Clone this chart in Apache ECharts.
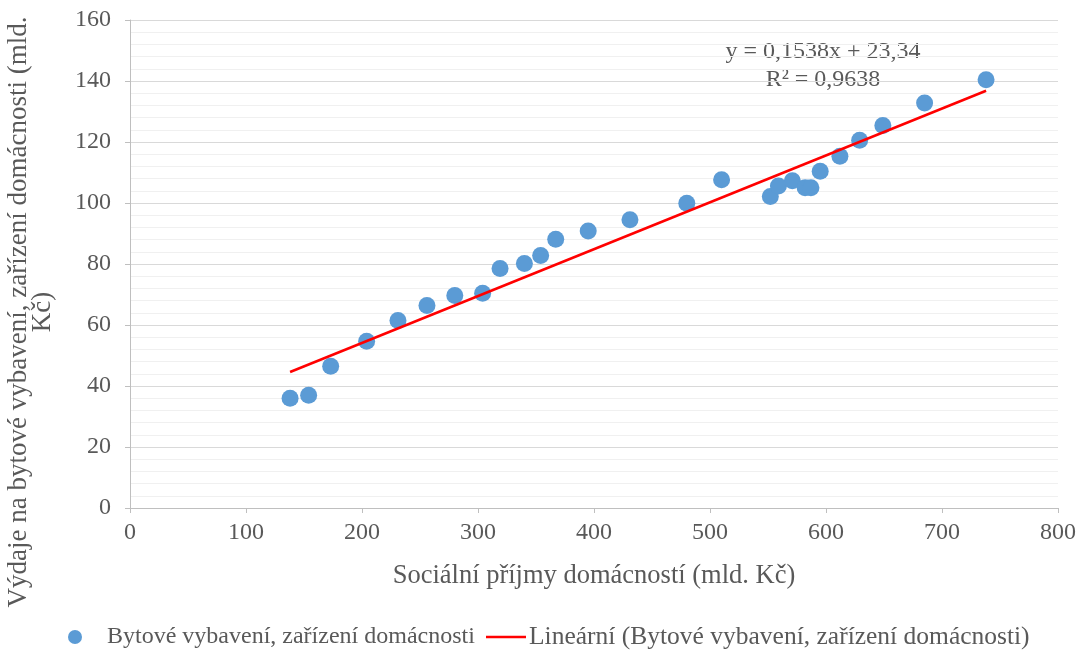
<!DOCTYPE html>
<html>
<head>
<meta charset="utf-8">
<script src="https://cdn.jsdelivr.net/npm/echarts@6/dist/echarts.min.js"></script>
<style>
html, body { margin: 0; padding: 0; background: #fff; }
#container { width: 1085px; height: 659px; }
</style>
</head>
<body>
<div id="container"></div>
<script>
// body dat - socialni prijmy (x) a vydaje na bytove vybaveni (y), mld. Kc
var prijmy = [138, 154, 173, 204, 231, 256, 280, 304, 319, 340, 354, 367, 395, 431, 480, 510, 552, 559, 571, 582, 587, 595, 612, 629, 649, 685, 738];
var vydaje = [36.0, 37.0, 46.5, 54.7, 61.5, 66.4, 69.7, 70.4, 78.5, 80.2, 82.8, 88.1, 90.8, 94.5, 99.9, 107.6, 102.1, 105.6, 107.3, 105.0, 105.0, 110.4, 115.3, 120.6, 125.4, 132.8, 140.4];
// koncove body linearniho trendu
var trendX = [138, 738];
var trendY = [44.6, 136.8];
var xTicks = [0, 800, 100];
var yTicks = [0, 160, 20];

var nazevRady = 'Bytové vybavení, zařízení domácnosti';
var nazevTrendu = 'Lineární (Bytové vybavení, zařízení domácnosti)';
var rovnice = 'y = 0,1538x + 23,34';
var spolehlivost = 'R² = 0,9638';

var bodyData = [];
for (var i = 0; i < prijmy.length; i++) {
    bodyData.push([prijmy[i], vydaje[i]]);
}
var trendData = [];
for (var j = 0; j < trendX.length; j++) {
    trendData.push([trendX[j], trendY[j]]);
}

var font = 'Liberation Serif';
var seda = '#595959';

var dom = document.getElementById("container");
var myChart = echarts.init(dom);
var option = {
    animation: false,
    textStyle: { fontFamily: font },
    grid: { left: 130, right: 27, top: 20, bottom: 151, containLabel: false },
    xAxis: {
        type: 'value',
        min: xTicks[0],
        max: xTicks[1],
        interval: xTicks[2],
        name: 'Sociální příjmy domácností (mld. Kč)',
        nameLocation: 'middle',
        nameGap: 55,
        nameTextStyle: { fontFamily: font, fontSize: 26.5, color: seda },
        axisLine: { show: true, lineStyle: { color: '#bfbfbf', width: 1 } },
        axisTick: { show: true, length: 5, lineStyle: { color: '#bfbfbf' } },
        axisLabel: { fontFamily: font, fontSize: 24, color: seda, margin: 13 },
        splitLine: { show: false }
    },
    yAxis: {
        type: 'value',
        min: yTicks[0],
        max: yTicks[1],
        interval: yTicks[2],
        axisLine: { show: true, lineStyle: { color: '#bfbfbf', width: 1 } },
        axisTick: { show: true, length: 5, lineStyle: { color: '#bfbfbf' } },
        axisLabel: { fontFamily: font, fontSize: 24, color: seda, margin: 19 },
        splitLine: { show: true, lineStyle: { color: '#d9d9d9', width: 1 } },
        minorTick: { show: false, splitNumber: 5 },
        minorSplitLine: { show: true, lineStyle: { color: '#f0f0f0', width: 1 } }
    },
    legend: [{
        left: 63,
        top: 620,
        icon: 'circle',
        itemWidth: 14,
        itemHeight: 14,
        data: [nazevRady],
        textStyle: { fontFamily: font, fontSize: 24, color: seda, padding: [0, 0, 0, 20] }
    }, {
        left: 481,
        top: 619,
        icon: 'rect',
        itemWidth: 40,
        itemHeight: 2.5,
        data: [nazevTrendu],
        textStyle: { fontFamily: font, fontSize: 25.5, color: seda, padding: [0, 0, 0, -2] }
    }],
    graphic: [{
        type: 'text',
        x: 31,
        y: 312,
        rotation: Math.PI / 2,
        style: {
            text: 'Výdaje na bytové vybavení, zařízení domácnosti (mld.\nKč)',
            font: '27px "Liberation Serif"',
            fill: seda,
            align: 'center',
            verticalAlign: 'middle',
            lineHeight: 24
        }
    }, {
        type: 'text',
        x: 823,
        y: 66,
        style: {
            text: rovnice + '\n' + spolehlivost,
            font: '24px "Liberation Serif"',
            fill: seda,
            align: 'center',
            verticalAlign: 'middle',
            lineHeight: 28
        }
    }],
    series: [{
        name: nazevRady,
        type: 'scatter',
        symbol: 'circle',
        symbolSize: 17,
        itemStyle: { color: '#5b9bd5', opacity: 1 },
        data: bodyData,
        z: 3
    }, {
        name: nazevTrendu,
        type: 'line',
        showSymbol: false,
        symbol: 'none',
        lineStyle: { color: '#ff0000', width: 2.5 },
        itemStyle: { color: '#ff0000' },
        data: trendData,
        z: 4
    }]
};
if (option && typeof option === "object") {
    myChart.setOption(option, true);
}
</script>
</body>
</html>
